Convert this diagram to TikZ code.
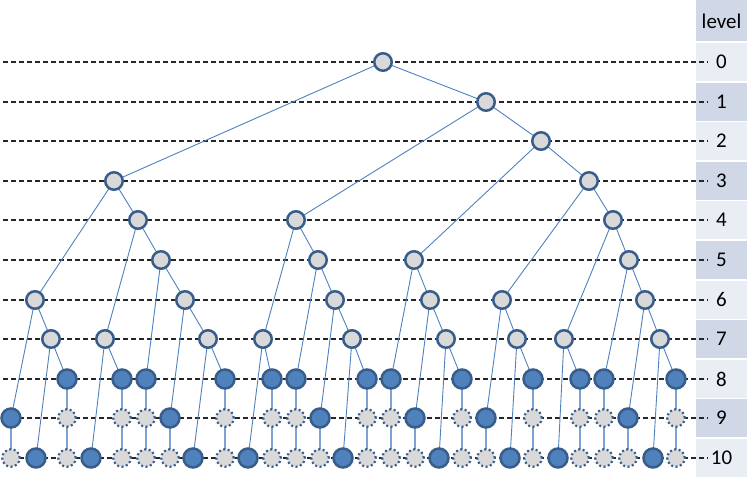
\documentclass[tikz,border=0pt]{standalone}
\usepackage{fontspec}
\setmainfont{Carlito}
\definecolor{nodeborder}{HTML}{385D8A}
\definecolor{nodeblue}{HTML}{4F81BD}
\definecolor{nodegray}{HTML}{D9D9D9}
\definecolor{edgeblue}{HTML}{4F81BD}
\definecolor{padblue}{HTML}{7DA3D4}
\definecolor{rowdark}{HTML}{D0D8E8}
\definecolor{rowlight}{HTML}{E9EDF4}
\pgfdeclarelayer{bg}
\pgfdeclarelayer{edges}
\pgfsetlayers{bg,edges,main}
\begin{document}
\begin{tikzpicture}[x=1bp,y=-1bp,
  innernode/.style={circle,draw=nodeborder,fill=nodegray,line width=2.5bp,minimum size=17.5bp,inner sep=0pt},
  leafnode/.style={circle,draw=nodeborder,fill=nodeblue,line width=2.5bp,minimum size=19bp,inner sep=0pt},
  padnode/.style={circle,draw=nodeborder,fill=nodegray,line width=2.2bp,dash pattern=on 2bp off 2.5bp,minimum size=17.5bp,inner sep=0pt},
  treeedge/.style={draw=edgeblue,line width=0.9bp},
  padedge/.style={draw=padblue,line width=1.4bp},
  levelline/.style={draw=black!85,line width=2bp,dash pattern=on 5bp off 3bp},
  lvltext/.style={font=\fontsize{21}{25}\selectfont,inner sep=0pt}]
\useasboundingbox (0,0) rectangle (747,479);

% level column
\begin{pgfonlayer}{bg}
\fill[rowdark] (696,0) rectangle (747,41);
\foreach \k/\yy in {0/62,1/102,2/141,3/181,4/220,5/260,6/300,7/339,8/379,9/418,10/458}{
  \pgfmathtruncatemacro{\odd}{mod(\k,2)}
  \ifnum\odd=1
    \fill[rowdark] (696,\yy-19) rectangle (747,\yy+19);
  \else
    \fill[rowlight] (696,\yy-19) rectangle (747,\yy+19);
  \fi
  \coordinate (ls\k) at (3,\yy);
  \coordinate (le\k) at (708,\yy);
  \draw[levelline] (ls\k) -- (le\k);
}
\end{pgfonlayer}
\node[lvltext] (lvlhead) at (721.5,21) {level};
\foreach \k/\yy in {0/62,1/102,2/141,3/181,4/220,5/260,6/300,7/339,8/379,9/418,10/458}{
  \node[lvltext] (lab\k) at (721.5,\yy) {\k};
}

% inner nodes
\node[innernode] (a) at (383,62) {};
\node[innernode] (b) at (486,102) {};
\node[innernode] (c) at (541,141) {};
\foreach \n/\x in {d1/114,d2/589}{\node[innernode] (\n) at (\x,181) {};}
\foreach \n/\x in {e1/138,e2/296,e3/613}{\node[innernode] (\n) at (\x,220) {};}
\foreach \n/\x in {f1/161,f2/318,f3/414,f4/629}{\node[innernode] (\n) at (\x,260) {};}
\foreach \n/\x in {g1/35,g2/185,g3/335,g4/430,g5/502,g6/645}{\node[innernode] (\n) at (\x,300) {};}
\foreach \n/\x in {h1/51,h2/105,h3/208,h4/263,h5/352,h6/446,h7/517,h8/564,h9/660}{\node[innernode] (\n) at (\x,339) {};}

% leaves at level 8 with padding below
\foreach \n/\x in {1/67,2/122,3/146,4/225,5/272,6/296,7/367,8/391,9/462,10/533,11/580,12/604,13/676}{
  \node[leafnode] (i\n) at (\x,379) {};
  \node[padnode] (p\n) at (\x,418) {};
  \node[padnode] (q\n) at (\x,458) {};
}
% leaves at level 9 with padding below
\foreach \n/\x in {1/11,2/170,3/320,4/415,5/486,6/628}{
  \node[leafnode] (j\n) at (\x,418) {};
  \node[padnode] (s\n) at (\x,458) {};
}
% leaves at level 10
\foreach \n/\x in {1/36,2/91,3/193,4/248,5/343,6/439,7/510,8/558,9/653}{
  \node[leafnode] (k\n) at (\x,458) {};
}

\begin{pgfonlayer}{edges}
\foreach \u/\v in {a/b,a/d1,b/c,b/e2,c/d2,c/f3,d1/e1,d1/g1,d2/e3,d2/g5,
  e1/f1,e1/h2,e2/f2,e2/h4,e3/f4,e3/h8,
  f1/g2,f1/i3,f2/g3,f2/i6,f3/g4,f3/i8,f4/g6,f4/i12,
  g1/h1,g1/j1,g2/h3,g2/j2,g3/h5,g3/j3,g4/h6,g4/j4,g5/h7,g5/j5,g6/h9,g6/j6,
  h1/i1,h1/k1,h2/i2,h2/k2,h3/i4,h3/k3,h4/i5,h4/k4,h5/i7,h5/k5,h6/i9,h6/k6,
  h7/i10,h7/k7,h8/i11,h8/k8,h9/i13,h9/k9}{
  \draw[treeedge] (\u.center) -- (\v.center);
}
\foreach \n in {1,...,13}{\draw[padedge] (i\n.center) -- (p\n.center) -- (q\n.center);}
\foreach \n in {1,...,6}{\draw[padedge] (j\n.center) -- (s\n.center);}
\end{pgfonlayer}
\end{tikzpicture}
\end{document}
